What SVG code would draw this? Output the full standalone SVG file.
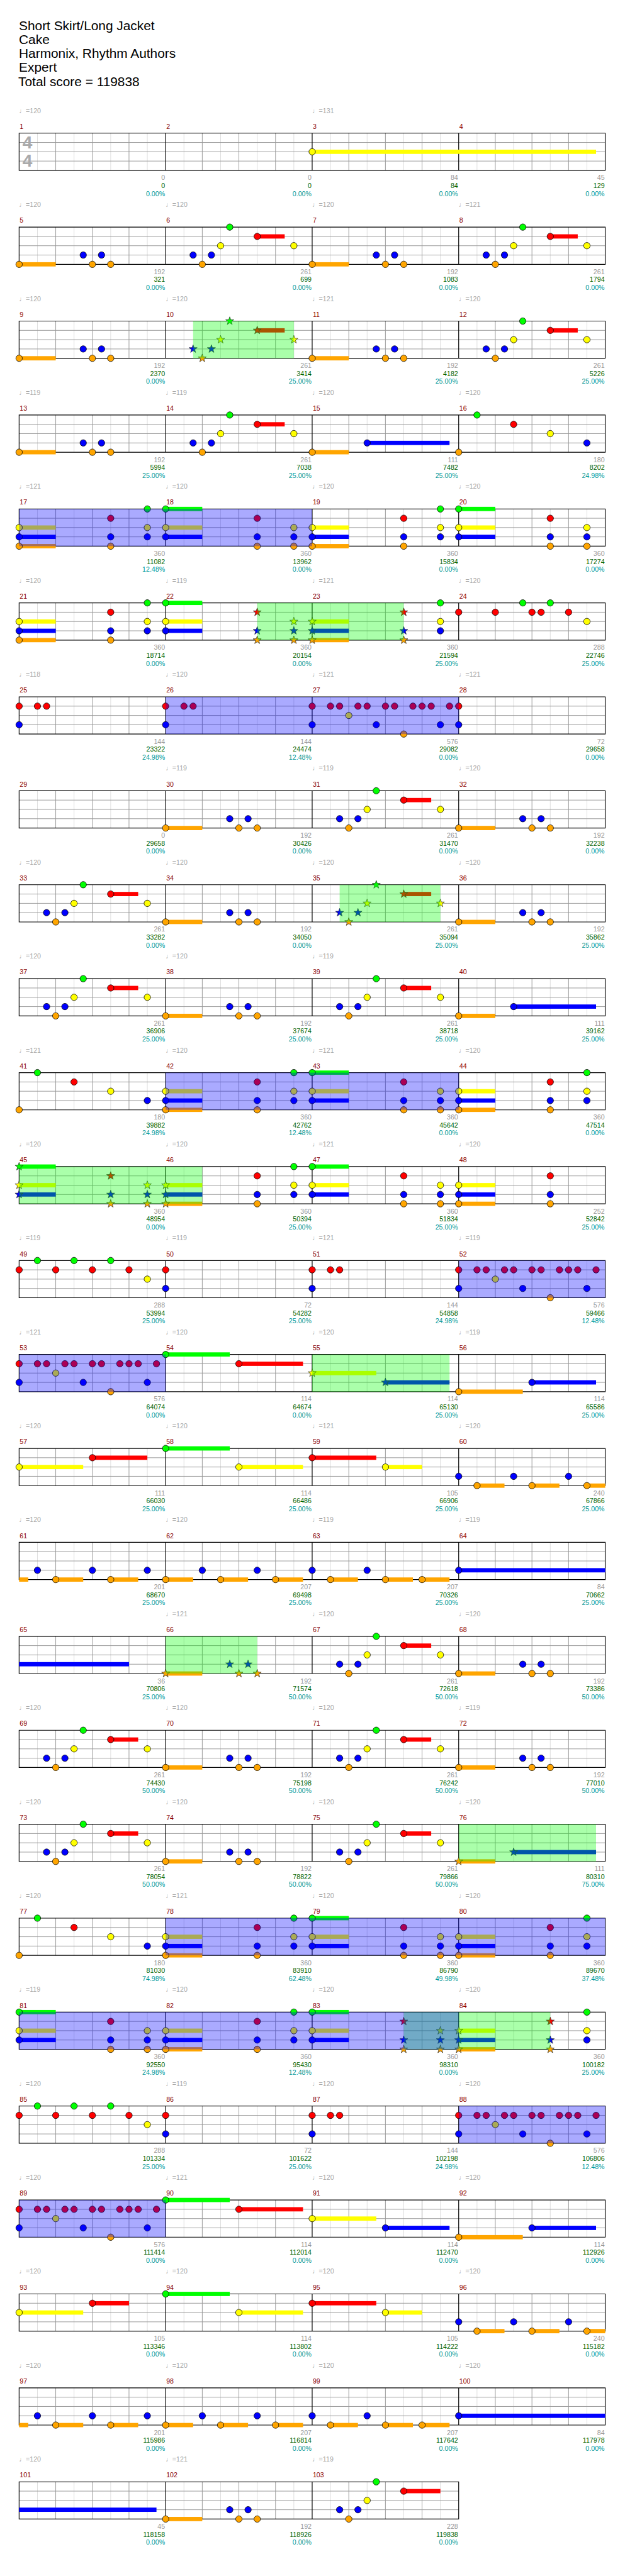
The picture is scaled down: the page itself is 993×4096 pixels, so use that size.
<svg xmlns="http://www.w3.org/2000/svg" xmlns:xlink="http://www.w3.org/1999/xlink" width="993" height="4096" viewBox="0 0 993 4096">
<style>
text{font-family:"Liberation Sans","DejaVu Sans",Arial,sans-serif;font-size:11px}
.h{font-size:21.5px;fill:#000}
.mn{fill:#8b0000}
.tp{fill:#a8a8a8}
.sa{fill:#999;text-anchor:end}
.sb{fill:#006400;text-anchor:end}
.sc{fill:#009999;text-anchor:end}
.ts{font-size:29px;font-weight:bold;fill:#aaa;text-anchor:middle}
circle{stroke:#000;stroke-width:.8}
#st{stroke:#222;stroke-width:.7}
.uG{fill:#0f0}.uR{fill:#f00}.uY{fill:#ff0}.uB{fill:#00f}.uO{fill:#ffa500}
.gz{fill:#0f0;fill-opacity:.333}
.bz{fill:#00f;fill-opacity:.333}
.l1{stroke:#ddd;fill:none;stroke-width:1}
.l2{stroke:#999;fill:none;stroke-width:1}
.l3{stroke:#000;fill:none;stroke-width:1.2}
</style>
<defs>
<g id="gm"><path class="l1" d="M30 0V61M90 0V61M150 0V61M210 0V61"/><path class="l2" d="M60 0V61M120 0V61M180 0V61M0 15.25H240M0 30.5H240M0 45.75H240"/></g>
<g id="st4"><use href="#gm"/><use href="#gm" x="240"/><use href="#gm" x="480"/><use href="#gm" x="720"/><path class="l3" d="M0 0H960V61H0ZM240 0V61M480 0V61M720 0V61"/></g>
<g id="st3"><use href="#gm"/><use href="#gm" x="240"/><use href="#gm" x="480"/><path class="l3" d="M0 0H720V61H0ZM240 0V61M480 0V61"/></g>
<circle id="nG" r="5.3" fill="#0f0"/>
<circle id="nR" cy="15.25" r="5.3" fill="#f00"/>
<circle id="nY" cy="30.5" r="5.3" fill="#ff0"/>
<circle id="nB" cy="45.75" r="5.3" fill="#00f"/>
<circle id="nO" cy="61" r="5.3" fill="#ffa500"/>
<path id="st" d="M0-7L1.65-2.27 6.66-2.16 2.66.87 4.11 5.66 0 2.8-4.11 5.66-2.66.87-6.66-2.16-1.65-2.27Z"/>
<use id="sG" href="#st" fill="#0f0"/>
<use id="sR" href="#st" y="15.25" fill="#f00"/>
<use id="sY" href="#st" y="30.5" fill="#ff0"/>
<use id="sB" href="#st" y="45.75" fill="#00f"/>
<use id="sO" href="#st" y="61" fill="#ffa500"/>
<g id="aYBO"><rect class="uY" y="27" width="60" height="7"/><rect class="uB" y="42.25" width="60" height="7"/><rect class="uO" y="57.5" width="60" height="7"/><use href="#nY"/><use href="#nB"/><use href="#nO"/></g>
<g id="aYBOs"><rect class="uY" y="27" width="60" height="7"/><rect class="uB" y="42.25" width="60" height="7"/><rect class="uO" y="57.5" width="60" height="7"/><use href="#sY"/><use href="#sB"/><use href="#sO"/></g>
<g id="aGYB"><rect class="uG" y="-3.5" width="60" height="7"/><rect class="uY" y="27" width="60" height="7"/><rect class="uB" y="42.25" width="60" height="7"/><use href="#nG"/><use href="#nY"/><use href="#nB"/></g>
<g id="aGYBs"><rect class="uG" y="-3.5" width="60" height="7"/><rect class="uY" y="27" width="60" height="7"/><rect class="uB" y="42.25" width="60" height="7"/><use href="#sG"/><use href="#sY"/><use href="#sB"/></g>
<g id="kRBO"><use href="#nR"/><use href="#nB"/><use href="#nO"/></g>
<g id="kRBOs"><use href="#sR"/><use href="#sB"/><use href="#sO"/></g>
<g id="kGYB"><use href="#nG"/><use href="#nY"/><use href="#nB"/></g>
<g id="kYBO"><use href="#nY"/><use href="#nB"/><use href="#nO"/></g>
<g id="kYBOs"><use href="#sY"/><use href="#sB"/><use href="#sO"/></g>
<g id="C1"><use href="#aYBO"/><use href="#kRBO" x="150"/><use href="#kGYB" x="210"/></g>
<g id="C1a"><use href="#aYBOs"/><use href="#kRBO" x="150"/><use href="#kGYB" x="210"/></g>
<g id="C1b"><use href="#aYBOs"/><use href="#kRBOs" x="150"/><use href="#kGYB" x="210"/></g>
<g id="C1x"><use href="#aYBO"/><use href="#kRBO" x="150"/></g>
<g id="C2"><use href="#aGYB"/><use href="#kRBO" x="150"/><use href="#kYBO" x="210"/></g>
<g id="C2s"><use href="#aGYBs"/><use href="#kRBOs" x="150"/><use href="#kYBOs" x="210"/></g>
<g id="C2b"><use href="#aGYB"/><use href="#kRBOs" x="150"/><use href="#kYBOs" x="210"/></g>
<g id="P1"><rect class="uO" y="57.5" width="60" height="7"/><use href="#nO"/><use href="#nB" x="105"/><use href="#nO" x="120"/><use href="#nB" x="135"/><use href="#nO" x="150"/></g>
<g id="P1s"><rect class="uO" y="57.5" width="60" height="7"/><use href="#sO"/><use href="#sB" x="105"/><use href="#sO" x="120"/><use href="#sB" x="135"/><use href="#sO" x="150"/></g>
<g id="P2"><rect class="uR" x="150" y="11.75" width="45" height="7"/><use href="#nB" x="45"/><use href="#nO" x="60"/><use href="#nB" x="75"/><use href="#nY" x="90"/><use href="#nG" x="105"/><use href="#nR" x="150"/><use href="#nY" x="210"/></g>
<g id="P2s"><rect class="uR" x="150" y="11.75" width="45" height="7"/><use href="#sB" x="45"/><use href="#sO" x="60"/><use href="#sB" x="75"/><use href="#sY" x="90"/><use href="#sG" x="105"/><use href="#sR" x="150"/><use href="#sY" x="210"/></g>
<g id="P2e"><rect class="uR" x="150" y="11.75" width="60" height="7"/><use href="#nB" x="45"/><use href="#nO" x="60"/><use href="#nB" x="75"/><use href="#nY" x="90"/><use href="#nG" x="105"/><use href="#nR" x="150"/></g>
<g id="Q"><rect class="uO" y="57.5" width="60" height="7"/><rect class="uB" x="90" y="42.25" width="135" height="7"/><use href="#nO"/><use href="#nB" x="90"/></g>
<g id="Qs"><rect class="uO" y="57.5" width="60" height="7"/><rect class="uB" x="90" y="42.25" width="135" height="7"/><use href="#sO"/><use href="#sB" x="90"/></g>
<g id="K"><use href="#nO"/><use href="#nG" x="30"/><use href="#nR" x="90"/><use href="#nY" x="150"/><use href="#nB" x="210"/></g>
<g id="M"><use href="#nR"/><use href="#nR" x="60"/><use href="#nG" x="105"/><use href="#nR" x="120"/><use href="#nR" x="135"/><use href="#nG" x="150"/><use href="#nR" x="180"/><use href="#nY" x="210"/></g>
<g id="H"><use href="#nR"/><use href="#nB"/><use href="#nR" x="30"/><use href="#nR" x="45"/></g>
<g id="I"><use href="#nR"/><use href="#nB"/></g>
<g id="D"><use href="#nR"/><use href="#nB"/><use href="#nR" x="30"/><use href="#nR" x="45"/><use href="#nY" x="60"/><use href="#nR" x="75"/><use href="#nR" x="90"/><use href="#nB" x="105"/><use href="#nR" x="120"/><use href="#nR" x="135"/><use href="#nO" x="150"/><use href="#nR" x="165"/><use href="#nR" x="180"/><use href="#nR" x="195"/><use href="#nB" x="210"/><use href="#nR" x="225"/></g>
<g id="F"><use href="#nR"/><use href="#nG" x="30"/><use href="#nR" x="60"/><use href="#nG" x="90"/><use href="#nR" x="120"/><use href="#nG" x="150"/><use href="#nR" x="180"/><use href="#nY" x="210"/></g>
<g id="S1"><rect class="uG" y="-3.5" width="105" height="7"/><rect class="uR" x="120" y="11.75" width="105" height="7"/><use href="#nG"/><use href="#nR" x="120"/></g>
<g id="S2"><rect class="uY" y="27" width="105" height="7"/><rect class="uB" x="120" y="42.25" width="105" height="7"/><use href="#nY"/><use href="#nB" x="120"/></g>
<g id="S2s"><rect class="uY" y="27" width="105" height="7"/><rect class="uB" x="120" y="42.25" width="105" height="7"/><use href="#sY"/><use href="#sB" x="120"/></g>
<g id="S3"><rect class="uO" y="57.5" width="105" height="7"/><rect class="uB" x="120" y="42.25" width="105" height="7"/><use href="#nO"/><use href="#nB" x="120"/></g>
<g id="T1"><rect class="uY" y="27" width="105" height="7"/><rect class="uR" x="120" y="11.75" width="90" height="7"/><use href="#nY"/><use href="#nR" x="120"/></g>
<g id="T1e"><rect class="uY" y="27" width="105" height="7"/><rect class="uR" x="120" y="11.75" width="60" height="7"/><use href="#nY"/><use href="#nR" x="120"/></g>
<g id="T2"><rect class="uG" y="-3.5" width="105" height="7"/><rect class="uY" x="120" y="27" width="105" height="7"/><use href="#nG"/><use href="#nY" x="120"/></g>
<g id="T3"><rect class="uR" y="11.75" width="105" height="7"/><rect class="uY" x="120" y="27" width="60" height="7"/><use href="#nR"/><use href="#nY" x="120"/></g>
<g id="U1"><rect class="uO" x="30" y="57.5" width="45" height="7"/><rect class="uO" x="120" y="57.5" width="45" height="7"/><rect class="uO" x="210" y="57.5" width="30" height="7"/><use href="#nB"/><use href="#nO" x="30"/><use href="#nB" x="90"/><use href="#nO" x="120"/><use href="#nB" x="180"/><use href="#nO" x="210"/></g>
<g id="U2"><rect class="uO" y="57.5" width="15" height="7"/><rect class="uO" x="60" y="57.5" width="45" height="7"/><rect class="uO" x="150" y="57.5" width="45" height="7"/><use href="#nB" x="30"/><use href="#nO" x="60"/><use href="#nB" x="120"/><use href="#nO" x="150"/><use href="#nB" x="210"/></g>
<g id="U3"><rect class="uO" y="57.5" width="45" height="7"/><rect class="uO" x="90" y="57.5" width="45" height="7"/><rect class="uO" x="180" y="57.5" width="45" height="7"/><use href="#nO"/><use href="#nB" x="60"/><use href="#nO" x="90"/><use href="#nB" x="150"/><use href="#nO" x="180"/></g>
<g id="U4"><rect class="uO" x="30" y="57.5" width="45" height="7"/><rect class="uO" x="120" y="57.5" width="45" height="7"/><rect class="uO" x="180" y="57.5" width="45" height="7"/><use href="#nB"/><use href="#nO" x="30"/><use href="#nB" x="90"/><use href="#nO" x="120"/><use href="#nO" x="180"/></g>
<g id="U5"><rect class="uB" y="42.25" width="240" height="7"/><use href="#nB"/></g>
</defs>
<rect width="993" height="4096" fill="#fff"/>
<g transform="scale(0.97)">
<g id="header" class="h">
<text class="h" x="31" y="49">Short Skirt/Long Jacket</text>
<text class="h" x="31" y="72">Cake</text>
<text class="h" x="31" y="95">Harmonix, Rhythm Authors</text>
<text class="h" x="31" y="118">Expert</text>
<text class="h" x="30" y="141">Total score = 119838</text>
</g>

<g id="row1" transform="translate(31.3,218.3)">
<use href="#st4"/>
<text class="ts" x="13.5" y="25">4</text><text class="ts" x="13.5" y="55">4</text>
<rect class="uY" x="480" y="27" width="465" height="7"/><use href="#nY" x="480"/>
<text class="tp" x="0" y="-33">♩=120</text><text class="tp" x="480" y="-33">♩=131</text>
<text class="mn" x="1" y="-7">1</text><text class="mn" x="241" y="-7">2</text><text class="mn" x="481" y="-7">3</text><text class="mn" x="721" y="-7">4</text>
<text class="sa" x="239" y="77">0</text><text class="sb" x="239" y="90">0</text><text class="sc" x="239" y="103">0.00%</text>
<text class="sa" x="479" y="77">0</text><text class="sb" x="479" y="90">0</text><text class="sc" x="479" y="103">0.00%</text>
<text class="sa" x="719" y="77">84</text><text class="sb" x="719" y="90">84</text><text class="sc" x="719" y="103">0.00%</text>
<text class="sa" x="959" y="77">45</text><text class="sb" x="959" y="90">129</text><text class="sc" x="959" y="103">0.00%</text>
</g>

<g id="row2" transform="translate(31.3,372.3)">
<use href="#st4"/>
<use href="#P1"/><use href="#P2" x="240"/><use href="#P1" x="480"/><use href="#P2" x="720"/>
<text class="tp" x="0" y="-33">♩=120</text><text class="tp" x="240" y="-33">♩=120</text><text class="tp" x="480" y="-33">♩=120</text><text class="tp" x="720" y="-33">♩=121</text>
<text class="mn" x="1" y="-7">5</text><text class="mn" x="241" y="-7">6</text><text class="mn" x="481" y="-7">7</text><text class="mn" x="721" y="-7">8</text>
<text class="sa" x="239" y="77">192</text><text class="sb" x="239" y="90">321</text><text class="sc" x="239" y="103">0.00%</text>
<text class="sa" x="479" y="77">261</text><text class="sb" x="479" y="90">699</text><text class="sc" x="479" y="103">0.00%</text>
<text class="sa" x="719" y="77">192</text><text class="sb" x="719" y="90">1083</text><text class="sc" x="719" y="103">0.00%</text>
<text class="sa" x="959" y="77">261</text><text class="sb" x="959" y="90">1794</text><text class="sc" x="959" y="103">0.00%</text>
</g>

<g id="row3" transform="translate(31.3,526.3)">
<use href="#st4"/>
<use href="#P1"/><use href="#P2s" x="240"/><use href="#P1" x="480"/><use href="#P2" x="720"/>
<rect class="gz" x="285" width="165" height="61"/>
<text class="tp" x="0" y="-33">♩=120</text><text class="tp" x="240" y="-33">♩=120</text><text class="tp" x="480" y="-33">♩=121</text><text class="tp" x="720" y="-33">♩=120</text>
<text class="mn" x="1" y="-7">9</text><text class="mn" x="241" y="-7">10</text><text class="mn" x="481" y="-7">11</text><text class="mn" x="721" y="-7">12</text>
<text class="sa" x="239" y="77">192</text><text class="sb" x="239" y="90">2370</text><text class="sc" x="239" y="103">0.00%</text>
<text class="sa" x="479" y="77">261</text><text class="sb" x="479" y="90">3414</text><text class="sc" x="479" y="103">25.00%</text>
<text class="sa" x="719" y="77">192</text><text class="sb" x="719" y="90">4182</text><text class="sc" x="719" y="103">25.00%</text>
<text class="sa" x="959" y="77">261</text><text class="sb" x="959" y="90">5226</text><text class="sc" x="959" y="103">25.00%</text>
</g>

<g id="row4" transform="translate(31.3,680.3)">
<use href="#st4"/>
<use href="#P1"/><use href="#P2" x="240"/><use href="#Q" x="480"/><use href="#K" x="720"/>
<text class="tp" x="0" y="-33">♩=119</text><text class="tp" x="240" y="-33">♩=119</text><text class="tp" x="480" y="-33">♩=120</text><text class="tp" x="720" y="-33">♩=120</text>
<text class="mn" x="1" y="-7">13</text><text class="mn" x="241" y="-7">14</text><text class="mn" x="481" y="-7">15</text><text class="mn" x="721" y="-7">16</text>
<text class="sa" x="239" y="77">192</text><text class="sb" x="239" y="90">5994</text><text class="sc" x="239" y="103">25.00%</text>
<text class="sa" x="479" y="77">261</text><text class="sb" x="479" y="90">7038</text><text class="sc" x="479" y="103">25.00%</text>
<text class="sa" x="719" y="77">111</text><text class="sb" x="719" y="90">7482</text><text class="sc" x="719" y="103">25.00%</text>
<text class="sa" x="959" y="77">180</text><text class="sb" x="959" y="90">8202</text><text class="sc" x="959" y="103">24.98%</text>
</g>

<g id="row5" transform="translate(31.3,834.3)">
<use href="#st4"/>
<use href="#C1"/><use href="#C2" x="240"/><use href="#C1" x="480"/><use href="#C2" x="720"/>
<rect class="bz" x="0" width="480" height="61"/>
<text class="tp" x="0" y="-33">♩=121</text><text class="tp" x="240" y="-33">♩=120</text><text class="tp" x="480" y="-33">♩=120</text><text class="tp" x="720" y="-33">♩=120</text>
<text class="mn" x="1" y="-7">17</text><text class="mn" x="241" y="-7">18</text><text class="mn" x="481" y="-7">19</text><text class="mn" x="721" y="-7">20</text>
<text class="sa" x="239" y="77">360</text><text class="sb" x="239" y="90">11082</text><text class="sc" x="239" y="103">12.48%</text>
<text class="sa" x="479" y="77">360</text><text class="sb" x="479" y="90">13962</text><text class="sc" x="479" y="103">0.00%</text>
<text class="sa" x="719" y="77">360</text><text class="sb" x="719" y="90">15834</text><text class="sc" x="719" y="103">0.00%</text>
<text class="sa" x="959" y="77">360</text><text class="sb" x="959" y="90">17274</text><text class="sc" x="959" y="103">0.00%</text>
</g>

<g id="row6" transform="translate(31.3,988.3)">
<use href="#st4"/>
<use href="#C1"/><use href="#C2b" x="240"/><use href="#C1b" x="480"/><use href="#M" x="720"/>
<rect class="gz" x="390" width="240" height="61"/>
<text class="tp" x="0" y="-33">♩=120</text><text class="tp" x="240" y="-33">♩=119</text><text class="tp" x="480" y="-33">♩=121</text><text class="tp" x="720" y="-33">♩=120</text>
<text class="mn" x="1" y="-7">21</text><text class="mn" x="241" y="-7">22</text><text class="mn" x="481" y="-7">23</text><text class="mn" x="721" y="-7">24</text>
<text class="sa" x="239" y="77">360</text><text class="sb" x="239" y="90">18714</text><text class="sc" x="239" y="103">0.00%</text>
<text class="sa" x="479" y="77">360</text><text class="sb" x="479" y="90">20154</text><text class="sc" x="479" y="103">0.00%</text>
<text class="sa" x="719" y="77">360</text><text class="sb" x="719" y="90">21594</text><text class="sc" x="719" y="103">25.00%</text>
<text class="sa" x="959" y="77">288</text><text class="sb" x="959" y="90">22746</text><text class="sc" x="959" y="103">25.00%</text>
</g>

<g id="row7" transform="translate(31.3,1142.3)">
<use href="#st4"/>
<use href="#H"/><use href="#H" x="240"/><use href="#D" x="480"/><use href="#I" x="720"/>
<rect class="bz" x="240" width="480" height="61"/>
<text class="tp" x="0" y="-33">♩=118</text><text class="tp" x="240" y="-33">♩=120</text><text class="tp" x="480" y="-33">♩=121</text><text class="tp" x="720" y="-33">♩=121</text>
<text class="mn" x="1" y="-7">25</text><text class="mn" x="241" y="-7">26</text><text class="mn" x="481" y="-7">27</text><text class="mn" x="721" y="-7">28</text>
<text class="sa" x="239" y="77">144</text><text class="sb" x="239" y="90">23322</text><text class="sc" x="239" y="103">24.98%</text>
<text class="sa" x="479" y="77">144</text><text class="sb" x="479" y="90">24474</text><text class="sc" x="479" y="103">12.48%</text>
<text class="sa" x="719" y="77">576</text><text class="sb" x="719" y="90">29082</text><text class="sc" x="719" y="103">0.00%</text>
<text class="sa" x="959" y="77">72</text><text class="sb" x="959" y="90">29658</text><text class="sc" x="959" y="103">0.00%</text>
</g>

<g id="row8" transform="translate(31.3,1296.3)">
<use href="#st4"/>
<use href="#P1" x="240"/><use href="#P2" x="480"/><use href="#P1" x="720"/>
<text class="tp" x="240" y="-33">♩=119</text><text class="tp" x="480" y="-33">♩=119</text><text class="tp" x="720" y="-33">♩=120</text>
<text class="mn" x="1" y="-7">29</text><text class="mn" x="241" y="-7">30</text><text class="mn" x="481" y="-7">31</text><text class="mn" x="721" y="-7">32</text>
<text class="sa" x="239" y="77">0</text><text class="sb" x="239" y="90">29658</text><text class="sc" x="239" y="103">0.00%</text>
<text class="sa" x="479" y="77">192</text><text class="sb" x="479" y="90">30426</text><text class="sc" x="479" y="103">0.00%</text>
<text class="sa" x="719" y="77">261</text><text class="sb" x="719" y="90">31470</text><text class="sc" x="719" y="103">0.00%</text>
<text class="sa" x="959" y="77">192</text><text class="sb" x="959" y="90">32238</text><text class="sc" x="959" y="103">0.00%</text>
</g>

<g id="row9" transform="translate(31.3,1450.3)">
<use href="#st4"/>
<use href="#P2"/><use href="#P1" x="240"/><use href="#P2s" x="480"/><use href="#P1" x="720"/>
<rect class="gz" x="525" width="165" height="61"/>
<text class="tp" x="0" y="-33">♩=120</text><text class="tp" x="240" y="-33">♩=120</text><text class="tp" x="480" y="-33">♩=120</text><text class="tp" x="720" y="-33">♩=120</text>
<text class="mn" x="1" y="-7">33</text><text class="mn" x="241" y="-7">34</text><text class="mn" x="481" y="-7">35</text><text class="mn" x="721" y="-7">36</text>
<text class="sa" x="239" y="77">261</text><text class="sb" x="239" y="90">33282</text><text class="sc" x="239" y="103">0.00%</text>
<text class="sa" x="479" y="77">192</text><text class="sb" x="479" y="90">34050</text><text class="sc" x="479" y="103">0.00%</text>
<text class="sa" x="719" y="77">261</text><text class="sb" x="719" y="90">35094</text><text class="sc" x="719" y="103">25.00%</text>
<text class="sa" x="959" y="77">192</text><text class="sb" x="959" y="90">35862</text><text class="sc" x="959" y="103">25.00%</text>
</g>

<g id="row10" transform="translate(31.3,1604.3)">
<use href="#st4"/>
<use href="#P2"/><use href="#P1" x="240"/><use href="#P2" x="480"/><use href="#Q" x="720"/>
<text class="tp" x="0" y="-33">♩=120</text><text class="tp" x="240" y="-33">♩=120</text><text class="tp" x="480" y="-33">♩=119</text>
<text class="mn" x="1" y="-7">37</text><text class="mn" x="241" y="-7">38</text><text class="mn" x="481" y="-7">39</text><text class="mn" x="721" y="-7">40</text>
<text class="sa" x="239" y="77">261</text><text class="sb" x="239" y="90">36906</text><text class="sc" x="239" y="103">25.00%</text>
<text class="sa" x="479" y="77">192</text><text class="sb" x="479" y="90">37674</text><text class="sc" x="479" y="103">25.00%</text>
<text class="sa" x="719" y="77">261</text><text class="sb" x="719" y="90">38718</text><text class="sc" x="719" y="103">25.00%</text>
<text class="sa" x="959" y="77">111</text><text class="sb" x="959" y="90">39162</text><text class="sc" x="959" y="103">25.00%</text>
</g>

<g id="row11" transform="translate(31.3,1758.3)">
<use href="#st4"/>
<use href="#K"/><use href="#C1" x="240"/><use href="#C2" x="480"/><use href="#C1" x="720"/>
<rect class="bz" x="240" width="480" height="61"/>
<text class="tp" x="0" y="-33">♩=121</text><text class="tp" x="240" y="-33">♩=120</text><text class="tp" x="480" y="-33">♩=121</text><text class="tp" x="720" y="-33">♩=120</text>
<text class="mn" x="1" y="-7">41</text><text class="mn" x="241" y="-7">42</text><text class="mn" x="481" y="-7">43</text><text class="mn" x="721" y="-7">44</text>
<text class="sa" x="239" y="77">180</text><text class="sb" x="239" y="90">39882</text><text class="sc" x="239" y="103">24.98%</text>
<text class="sa" x="479" y="77">360</text><text class="sb" x="479" y="90">42762</text><text class="sc" x="479" y="103">12.48%</text>
<text class="sa" x="719" y="77">360</text><text class="sb" x="719" y="90">45642</text><text class="sc" x="719" y="103">0.00%</text>
<text class="sa" x="959" y="77">360</text><text class="sb" x="959" y="90">47514</text><text class="sc" x="959" y="103">0.00%</text>
</g>

<g id="row12" transform="translate(31.3,1912.3)">
<use href="#st4"/>
<use href="#C2s"/><use href="#C1a" x="240"/><use href="#C2" x="480"/><use href="#C1x" x="720"/>
<rect class="gz" x="0" width="300" height="61"/>
<text class="tp" x="0" y="-33">♩=120</text><text class="tp" x="240" y="-33">♩=120</text><text class="tp" x="480" y="-33">♩=121</text><text class="tp" x="720" y="-33">♩=120</text>
<text class="mn" x="1" y="-7">45</text><text class="mn" x="241" y="-7">46</text><text class="mn" x="481" y="-7">47</text><text class="mn" x="721" y="-7">48</text>
<text class="sa" x="239" y="77">360</text><text class="sb" x="239" y="90">48954</text><text class="sc" x="239" y="103">0.00%</text>
<text class="sa" x="479" y="77">360</text><text class="sb" x="479" y="90">50394</text><text class="sc" x="479" y="103">25.00%</text>
<text class="sa" x="719" y="77">360</text><text class="sb" x="719" y="90">51834</text><text class="sc" x="719" y="103">25.00%</text>
<text class="sa" x="959" y="77">252</text><text class="sb" x="959" y="90">52842</text><text class="sc" x="959" y="103">25.00%</text>
</g>

<g id="row13" transform="translate(31.3,2066.3)">
<use href="#st4"/>
<use href="#F"/><use href="#I" x="240"/><use href="#H" x="480"/><use href="#D" x="720"/>
<rect class="bz" x="720" width="240" height="61"/>
<text class="tp" x="0" y="-33">♩=119</text><text class="tp" x="240" y="-33">♩=119</text><text class="tp" x="480" y="-33">♩=121</text><text class="tp" x="720" y="-33">♩=119</text>
<text class="mn" x="1" y="-7">49</text><text class="mn" x="241" y="-7">50</text><text class="mn" x="481" y="-7">51</text><text class="mn" x="721" y="-7">52</text>
<text class="sa" x="239" y="77">288</text><text class="sb" x="239" y="90">53994</text><text class="sc" x="239" y="103">25.00%</text>
<text class="sa" x="479" y="77">72</text><text class="sb" x="479" y="90">54282</text><text class="sc" x="479" y="103">25.00%</text>
<text class="sa" x="719" y="77">144</text><text class="sb" x="719" y="90">54858</text><text class="sc" x="719" y="103">24.98%</text>
<text class="sa" x="959" y="77">576</text><text class="sb" x="959" y="90">59466</text><text class="sc" x="959" y="103">12.48%</text>
</g>

<g id="row14" transform="translate(31.3,2220.3)">
<use href="#st4"/>
<use href="#D"/><use href="#S1" x="240"/><use href="#S2s" x="480"/><use href="#S3" x="720"/>
<rect class="bz" x="0" width="240" height="61"/>
<rect class="gz" x="480" width="225" height="61"/>
<text class="tp" x="0" y="-33">♩=121</text><text class="tp" x="240" y="-33">♩=120</text><text class="tp" x="480" y="-33">♩=120</text><text class="tp" x="720" y="-33">♩=119</text>
<text class="mn" x="1" y="-7">53</text><text class="mn" x="241" y="-7">54</text><text class="mn" x="481" y="-7">55</text><text class="mn" x="721" y="-7">56</text>
<text class="sa" x="239" y="77">576</text><text class="sb" x="239" y="90">64074</text><text class="sc" x="239" y="103">0.00%</text>
<text class="sa" x="479" y="77">114</text><text class="sb" x="479" y="90">64674</text><text class="sc" x="479" y="103">0.00%</text>
<text class="sa" x="719" y="77">114</text><text class="sb" x="719" y="90">65130</text><text class="sc" x="719" y="103">25.00%</text>
<text class="sa" x="959" y="77">114</text><text class="sb" x="959" y="90">65586</text><text class="sc" x="959" y="103">25.00%</text>
</g>

<g id="row15" transform="translate(31.3,2374.3)">
<use href="#st4"/>
<use href="#T1"/><use href="#T2" x="240"/><use href="#T3" x="480"/><use href="#U1" x="720"/>
<text class="tp" x="0" y="-33">♩=120</text><text class="tp" x="240" y="-33">♩=120</text><text class="tp" x="480" y="-33">♩=121</text><text class="tp" x="720" y="-33">♩=120</text>
<text class="mn" x="1" y="-7">57</text><text class="mn" x="241" y="-7">58</text><text class="mn" x="481" y="-7">59</text><text class="mn" x="721" y="-7">60</text>
<text class="sa" x="239" y="77">111</text><text class="sb" x="239" y="90">66030</text><text class="sc" x="239" y="103">25.00%</text>
<text class="sa" x="479" y="77">114</text><text class="sb" x="479" y="90">66486</text><text class="sc" x="479" y="103">25.00%</text>
<text class="sa" x="719" y="77">105</text><text class="sb" x="719" y="90">66906</text><text class="sc" x="719" y="103">25.00%</text>
<text class="sa" x="959" y="77">240</text><text class="sb" x="959" y="90">67866</text><text class="sc" x="959" y="103">25.00%</text>
</g>

<g id="row16" transform="translate(31.3,2528.3)">
<use href="#st4"/>
<use href="#U2"/><use href="#U3" x="240"/><use href="#U4" x="480"/><use href="#U5" x="720"/>
<text class="tp" x="0" y="-33">♩=120</text><text class="tp" x="240" y="-33">♩=120</text><text class="tp" x="480" y="-33">♩=119</text><text class="tp" x="720" y="-33">♩=119</text>
<text class="mn" x="1" y="-7">61</text><text class="mn" x="241" y="-7">62</text><text class="mn" x="481" y="-7">63</text><text class="mn" x="721" y="-7">64</text>
<text class="sa" x="239" y="77">201</text><text class="sb" x="239" y="90">68670</text><text class="sc" x="239" y="103">25.00%</text>
<text class="sa" x="479" y="77">207</text><text class="sb" x="479" y="90">69498</text><text class="sc" x="479" y="103">25.00%</text>
<text class="sa" x="719" y="77">207</text><text class="sb" x="719" y="90">70326</text><text class="sc" x="719" y="103">25.00%</text>
<text class="sa" x="959" y="77">84</text><text class="sb" x="959" y="90">70662</text><text class="sc" x="959" y="103">25.00%</text>
</g>

<g id="row17" transform="translate(31.3,2682.3)">
<use href="#st4"/>
<rect class="uB" y="42.25" width="180" height="7"/><use href="#P1s" x="240"/><use href="#P2" x="480"/><use href="#P1" x="720"/>
<rect class="gz" x="240" width="150" height="61"/>
<text class="tp" x="240" y="-33">♩=121</text><text class="tp" x="480" y="-33">♩=120</text><text class="tp" x="720" y="-33">♩=120</text>
<text class="mn" x="1" y="-7">65</text><text class="mn" x="241" y="-7">66</text><text class="mn" x="481" y="-7">67</text><text class="mn" x="721" y="-7">68</text>
<text class="sa" x="239" y="77">36</text><text class="sb" x="239" y="90">70806</text><text class="sc" x="239" y="103">25.00%</text>
<text class="sa" x="479" y="77">192</text><text class="sb" x="479" y="90">71574</text><text class="sc" x="479" y="103">50.00%</text>
<text class="sa" x="719" y="77">261</text><text class="sb" x="719" y="90">72618</text><text class="sc" x="719" y="103">50.00%</text>
<text class="sa" x="959" y="77">192</text><text class="sb" x="959" y="90">73386</text><text class="sc" x="959" y="103">50.00%</text>
</g>

<g id="row18" transform="translate(31.3,2836.3)">
<use href="#st4"/>
<use href="#P2"/><use href="#P1" x="240"/><use href="#P2" x="480"/><use href="#P1" x="720"/>
<text class="tp" x="0" y="-33">♩=120</text><text class="tp" x="240" y="-33">♩=120</text><text class="tp" x="480" y="-33">♩=120</text><text class="tp" x="720" y="-33">♩=119</text>
<text class="mn" x="1" y="-7">69</text><text class="mn" x="241" y="-7">70</text><text class="mn" x="481" y="-7">71</text><text class="mn" x="721" y="-7">72</text>
<text class="sa" x="239" y="77">261</text><text class="sb" x="239" y="90">74430</text><text class="sc" x="239" y="103">50.00%</text>
<text class="sa" x="479" y="77">192</text><text class="sb" x="479" y="90">75198</text><text class="sc" x="479" y="103">50.00%</text>
<text class="sa" x="719" y="77">261</text><text class="sb" x="719" y="90">76242</text><text class="sc" x="719" y="103">50.00%</text>
<text class="sa" x="959" y="77">192</text><text class="sb" x="959" y="90">77010</text><text class="sc" x="959" y="103">50.00%</text>
</g>

<g id="row19" transform="translate(31.3,2990.3)">
<use href="#st4"/>
<use href="#P2"/><use href="#P1" x="240"/><use href="#P2" x="480"/><use href="#Qs" x="720"/>
<rect class="gz" x="720" width="225" height="61"/>
<text class="tp" x="0" y="-33">♩=120</text><text class="tp" x="240" y="-33">♩=120</text><text class="tp" x="480" y="-33">♩=120</text><text class="tp" x="720" y="-33">♩=120</text>
<text class="mn" x="1" y="-7">73</text><text class="mn" x="241" y="-7">74</text><text class="mn" x="481" y="-7">75</text><text class="mn" x="721" y="-7">76</text>
<text class="sa" x="239" y="77">261</text><text class="sb" x="239" y="90">78054</text><text class="sc" x="239" y="103">50.00%</text>
<text class="sa" x="479" y="77">192</text><text class="sb" x="479" y="90">78822</text><text class="sc" x="479" y="103">50.00%</text>
<text class="sa" x="719" y="77">261</text><text class="sb" x="719" y="90">79866</text><text class="sc" x="719" y="103">50.00%</text>
<text class="sa" x="959" y="77">111</text><text class="sb" x="959" y="90">80310</text><text class="sc" x="959" y="103">75.00%</text>
</g>

<g id="row20" transform="translate(31.3,3144.3)">
<use href="#st4"/>
<use href="#K"/><use href="#C1" x="240"/><use href="#C2" x="480"/><use href="#C1" x="720"/>
<rect class="bz" x="240" width="720" height="61"/>
<text class="tp" x="0" y="-33">♩=120</text><text class="tp" x="240" y="-33">♩=121</text><text class="tp" x="480" y="-33">♩=120</text><text class="tp" x="720" y="-33">♩=120</text>
<text class="mn" x="1" y="-7">77</text><text class="mn" x="241" y="-7">78</text><text class="mn" x="481" y="-7">79</text><text class="mn" x="721" y="-7">80</text>
<text class="sa" x="239" y="77">180</text><text class="sb" x="239" y="90">81030</text><text class="sc" x="239" y="103">74.98%</text>
<text class="sa" x="479" y="77">360</text><text class="sb" x="479" y="90">83910</text><text class="sc" x="479" y="103">62.48%</text>
<text class="sa" x="719" y="77">360</text><text class="sb" x="719" y="90">86790</text><text class="sc" x="719" y="103">49.98%</text>
<text class="sa" x="959" y="77">360</text><text class="sb" x="959" y="90">89670</text><text class="sc" x="959" y="103">37.48%</text>
</g>

<g id="row21" transform="translate(31.3,3298.3)">
<use href="#st4"/>
<use href="#C2"/><use href="#C1" x="240"/><use href="#C2b" x="480"/><use href="#C1b" x="720"/>
<rect class="gz" x="630" width="240" height="61"/>
<rect class="bz" x="0" width="720" height="61"/>
<text class="tp" x="0" y="-33">♩=119</text><text class="tp" x="240" y="-33">♩=120</text><text class="tp" x="480" y="-33">♩=120</text><text class="tp" x="720" y="-33">♩=120</text>
<text class="mn" x="1" y="-7">81</text><text class="mn" x="241" y="-7">82</text><text class="mn" x="481" y="-7">83</text><text class="mn" x="721" y="-7">84</text>
<text class="sa" x="239" y="77">360</text><text class="sb" x="239" y="90">92550</text><text class="sc" x="239" y="103">24.98%</text>
<text class="sa" x="479" y="77">360</text><text class="sb" x="479" y="90">95430</text><text class="sc" x="479" y="103">12.48%</text>
<text class="sa" x="719" y="77">360</text><text class="sb" x="719" y="90">98310</text><text class="sc" x="719" y="103">0.00%</text>
<text class="sa" x="959" y="77">360</text><text class="sb" x="959" y="90">100182</text><text class="sc" x="959" y="103">25.00%</text>
</g>

<g id="row22" transform="translate(31.3,3452.3)">
<use href="#st4"/>
<use href="#F"/><use href="#I" x="240"/><use href="#H" x="480"/><use href="#D" x="720"/>
<rect class="bz" x="720" width="240" height="61"/>
<text class="tp" x="0" y="-33">♩=120</text><text class="tp" x="240" y="-33">♩=119</text><text class="tp" x="480" y="-33">♩=120</text><text class="tp" x="720" y="-33">♩=120</text>
<text class="mn" x="1" y="-7">85</text><text class="mn" x="241" y="-7">86</text><text class="mn" x="481" y="-7">87</text><text class="mn" x="721" y="-7">88</text>
<text class="sa" x="239" y="77">288</text><text class="sb" x="239" y="90">101334</text><text class="sc" x="239" y="103">25.00%</text>
<text class="sa" x="479" y="77">72</text><text class="sb" x="479" y="90">101622</text><text class="sc" x="479" y="103">25.00%</text>
<text class="sa" x="719" y="77">144</text><text class="sb" x="719" y="90">102198</text><text class="sc" x="719" y="103">24.98%</text>
<text class="sa" x="959" y="77">576</text><text class="sb" x="959" y="90">106806</text><text class="sc" x="959" y="103">12.48%</text>
</g>

<g id="row23" transform="translate(31.3,3606.3)">
<use href="#st4"/>
<use href="#D"/><use href="#S1" x="240"/><use href="#S2" x="480"/><use href="#S3" x="720"/>
<rect class="bz" x="0" width="240" height="61"/>
<text class="tp" x="0" y="-33">♩=120</text><text class="tp" x="240" y="-33">♩=121</text><text class="tp" x="480" y="-33">♩=120</text><text class="tp" x="720" y="-33">♩=120</text>
<text class="mn" x="1" y="-7">89</text><text class="mn" x="241" y="-7">90</text><text class="mn" x="481" y="-7">91</text><text class="mn" x="721" y="-7">92</text>
<text class="sa" x="239" y="77">576</text><text class="sb" x="239" y="90">111414</text><text class="sc" x="239" y="103">0.00%</text>
<text class="sa" x="479" y="77">114</text><text class="sb" x="479" y="90">112014</text><text class="sc" x="479" y="103">0.00%</text>
<text class="sa" x="719" y="77">114</text><text class="sb" x="719" y="90">112470</text><text class="sc" x="719" y="103">0.00%</text>
<text class="sa" x="959" y="77">114</text><text class="sb" x="959" y="90">112926</text><text class="sc" x="959" y="103">0.00%</text>
</g>

<g id="row24" transform="translate(31.3,3760.3)">
<use href="#st4"/>
<use href="#T1e"/><use href="#T2" x="240"/><use href="#T3" x="480"/><use href="#U1" x="720"/>
<text class="tp" x="0" y="-33">♩=120</text><text class="tp" x="240" y="-33">♩=120</text><text class="tp" x="480" y="-33">♩=120</text><text class="tp" x="720" y="-33">♩=120</text>
<text class="mn" x="1" y="-7">93</text><text class="mn" x="241" y="-7">94</text><text class="mn" x="481" y="-7">95</text><text class="mn" x="721" y="-7">96</text>
<text class="sa" x="239" y="77">105</text><text class="sb" x="239" y="90">113346</text><text class="sc" x="239" y="103">0.00%</text>
<text class="sa" x="479" y="77">114</text><text class="sb" x="479" y="90">113802</text><text class="sc" x="479" y="103">0.00%</text>
<text class="sa" x="719" y="77">105</text><text class="sb" x="719" y="90">114222</text><text class="sc" x="719" y="103">0.00%</text>
<text class="sa" x="959" y="77">240</text><text class="sb" x="959" y="90">115182</text><text class="sc" x="959" y="103">0.00%</text>
</g>

<g id="row25" transform="translate(31.3,3914.3)">
<use href="#st4"/>
<use href="#U2"/><use href="#U3" x="240"/><use href="#U4" x="480"/><use href="#U5" x="720"/>
<text class="tp" x="0" y="-33">♩=120</text><text class="tp" x="240" y="-33">♩=120</text><text class="tp" x="480" y="-33">♩=120</text><text class="tp" x="720" y="-33">♩=120</text>
<text class="mn" x="1" y="-7">97</text><text class="mn" x="241" y="-7">98</text><text class="mn" x="481" y="-7">99</text><text class="mn" x="721" y="-7">100</text>
<text class="sa" x="239" y="77">201</text><text class="sb" x="239" y="90">115986</text><text class="sc" x="239" y="103">0.00%</text>
<text class="sa" x="479" y="77">207</text><text class="sb" x="479" y="90">116814</text><text class="sc" x="479" y="103">0.00%</text>
<text class="sa" x="719" y="77">207</text><text class="sb" x="719" y="90">117642</text><text class="sc" x="719" y="103">0.00%</text>
<text class="sa" x="959" y="77">84</text><text class="sb" x="959" y="90">117978</text><text class="sc" x="959" y="103">0.00%</text>
</g>

<g id="row26" transform="translate(31.3,4068.3)">
<use href="#st3"/>
<rect class="uB" y="42.25" width="225" height="7"/><use href="#P1" x="240"/><use href="#P2e" x="480"/>
<text class="tp" x="0" y="-33">♩=120</text><text class="tp" x="240" y="-33">♩=121</text><text class="tp" x="480" y="-33">♩=119</text>
<text class="mn" x="1" y="-7">101</text><text class="mn" x="241" y="-7">102</text><text class="mn" x="481" y="-7">103</text>
<text class="sa" x="239" y="77">45</text><text class="sb" x="239" y="90">118158</text><text class="sc" x="239" y="103">0.00%</text>
<text class="sa" x="479" y="77">192</text><text class="sb" x="479" y="90">118926</text><text class="sc" x="479" y="103">0.00%</text>
<text class="sa" x="719" y="77">228</text><text class="sb" x="719" y="90">119838</text><text class="sc" x="719" y="103">0.00%</text>
</g>
</g>
</svg>
